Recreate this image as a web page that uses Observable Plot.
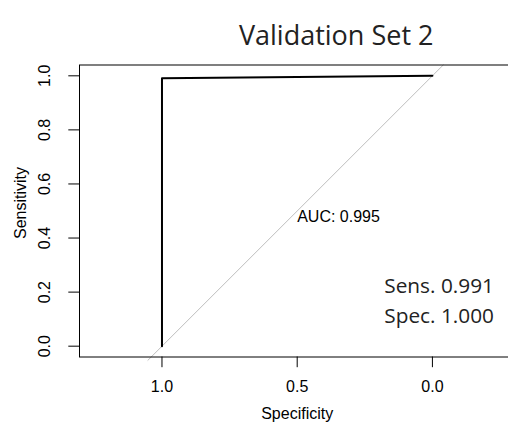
<!DOCTYPE html>
<html><head><meta charset="utf-8">
<script src="https://cdn.jsdelivr.net/npm/d3@7"></script>
<script src="https://cdn.jsdelivr.net/npm/@observablehq/plot@0.6"></script>
<style>html,body{margin:0;padding:0;background:#fff;overflow:hidden}</style>
</head><body><div id="chart"></div>
<script>
// ROC curve points (specificity, sensitivity)
const specificity = [1.0, 1.0, 0.0];
const sensitivity = [0.0, 0.991, 1.0];
// tick labels
const xTicks = [1.0, 0.5, 0.0];
const yTicks = [0.0, 0.2, 0.4, 0.6, 0.8, 1.0];
// chance diagonal extent (specificity)
const diagSpec = [1.052, -0.04];
// texts
const titleText = "Validation Set 2";
const xLabel = "Specificity";
const yLabel = "Sensitivity";
const aucLabel = "AUC: 0.995";
const statsLines = ["Sens. 0.991", "Spec. 1.000"];

const roc = specificity.map((s, i) => ({spec: s, sens: sensitivity[i]}));
const diag = diagSpec.map(s => ({spec: s, sens: 1 - s}));
const fmt = d3.format(".1f");
const sans = "Liberation Sans, Arial, Helvetica, sans-serif";
const light = "Open Sans, Noto Sans, sans-serif";

const chart = Plot.plot({
  width: 508,
  height: 426,
  marginLeft: 79,
  marginRight: -6.4,
  marginTop: 64.5,
  marginBottom: 69.5,
  style: {fontFamily: sans, fontSize: "16px", background: "#fff", color: "#000"},
  x: {domain: [1.305, -0.305]},
  y: {domain: [-0.04, 1.04]},
  marks: [
    Plot.line(diag, {x: "spec", y: "sens", stroke: "#bebebe", strokeWidth: 1}),
    Plot.line(roc, {x: "spec", y: "sens", stroke: "#000", strokeWidth: 2}),
    Plot.frame({stroke: "#000", strokeWidth: 1}),
    Plot.axisX({ticks: xTicks, tickFormat: fmt, tickSize: 10.7, tickPadding: 12.6, label: null, fontSize: 16, stroke: "#000"}),
    Plot.axisY({ticks: yTicks, tickFormat: fmt, tickSize: 10.7, tickPadding: 19, tickRotate: -90, label: null, fontSize: 16}),
    Plot.text([xLabel], {frameAnchor: "bottom", lineAnchor: "bottom", dy: 62, fontSize: 16, fill: "#000"}),
    Plot.text([yLabel], {frameAnchor: "left", rotate: -90, lineAnchor: "bottom", textAnchor: "middle", dx: -54, dy: -8, fontSize: 16, fill: "#000"}),
    Plot.text([aucLabel], {x: 0.5, y: 0.5, textAnchor: "start", lineAnchor: "bottom", dy: 11, fontSize: 16, fill: "#000"}),
    Plot.text([statsLines.join("\n")], {x: 0.178, y: 0.196, textAnchor: "start", lineAnchor: "bottom", dy: 29.8, lineHeight: 1.43, fontSize: 20.8, fontFamily: light, fill: "#222"}),
    Plot.text([titleText], {frameAnchor: "top", lineAnchor: "bottom", dx: 39, dy: -20.5, fontSize: 27, fontFamily: light, fill: "#222"})
  ]
});
document.getElementById("chart").appendChild(chart);
</script>
</body></html>
